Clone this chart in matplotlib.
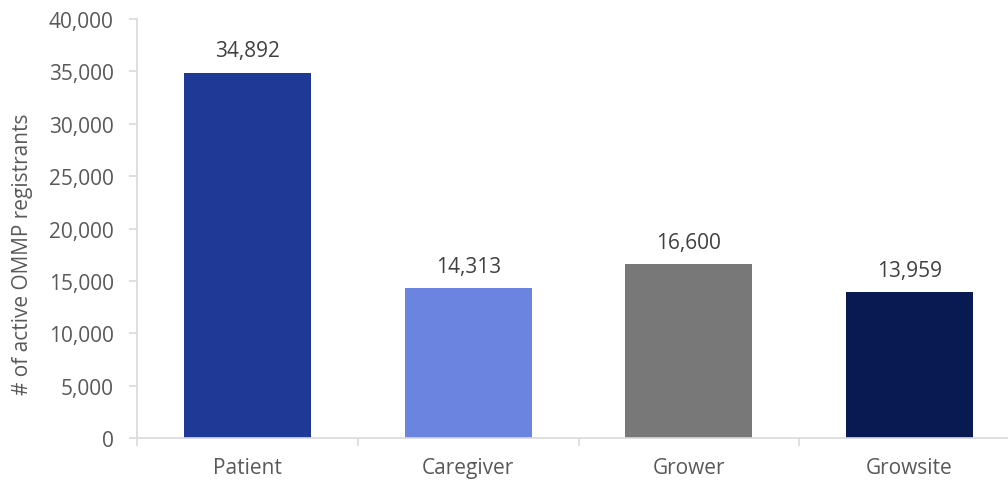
import matplotlib.pyplot as plt
from matplotlib.ticker import FuncFormatter

# data
categories = ["Patient", "Caregiver", "Grower", "Growsite"]
registrants = [34892, 14313, 16600, 13959]
bar_colors = ["#1F3A96", "#6A84DF", "#787878", "#091A52"]

plt.rcParams['font.family'] = ['Open Sans', 'DejaVu Sans']
text_color = "#595959"
axis_color = "#D9D9D9"
fs = 15

fig = plt.figure(figsize=(10.08, 4.81), dpi=100)
# axes runs a bit past the right edge, as in the original
ax = fig.add_axes([0.1361, 0.0873, 0.8757, 0.8711])

x = list(range(len(categories)))
bars = ax.bar(x, registrants, width=0.575, color=bar_colors, zorder=2)

# value labels above bars
for b, v in zip(bars, registrants):
    ax.annotate(f"{v:,}", (b.get_x() + b.get_width() / 2, v),
                xytext=(0, 8), textcoords="offset points",
                ha="center", va="bottom", fontsize=fs, color="#404040")

ax.set_xlim(-0.5, len(categories) - 0.5)
ax.set_ylim(0, 40000)
ax.set_yticks(range(0, 40001, 5000))
ax.yaxis.set_major_formatter(FuncFormatter(lambda v, p: f"{int(v):,}"))

# category labels, ticks between categories
ax.set_xticks([i - 0.5 for i in range(len(categories) + 1)])
ax.set_xticklabels([])
ax.set_xticks(x, minor=True)
ax.set_xticklabels(categories, minor=True)
ax.tick_params(axis="x", which="major", length=6, color=axis_color, width=1.2)
ax.tick_params(axis="x", which="minor", length=0, pad=14,
               labelsize=fs, labelcolor=text_color)
ax.tick_params(axis="y", length=6, color=axis_color, width=1.2,
               labelsize=fs, labelcolor=text_color, pad=11)

for side in ["top", "right"]:
    ax.spines[side].set_visible(False)
for side in ["left", "bottom"]:
    ax.spines[side].set_color(axis_color)
    ax.spines[side].set_linewidth(1.2)

ax.set_ylabel("# of active OMMP registrants", fontsize=fs, color=text_color, labelpad=6)
ax.yaxis.set_label_coords(-0.118, 0.44)

fig.savefig("out.png", dpi=100)
